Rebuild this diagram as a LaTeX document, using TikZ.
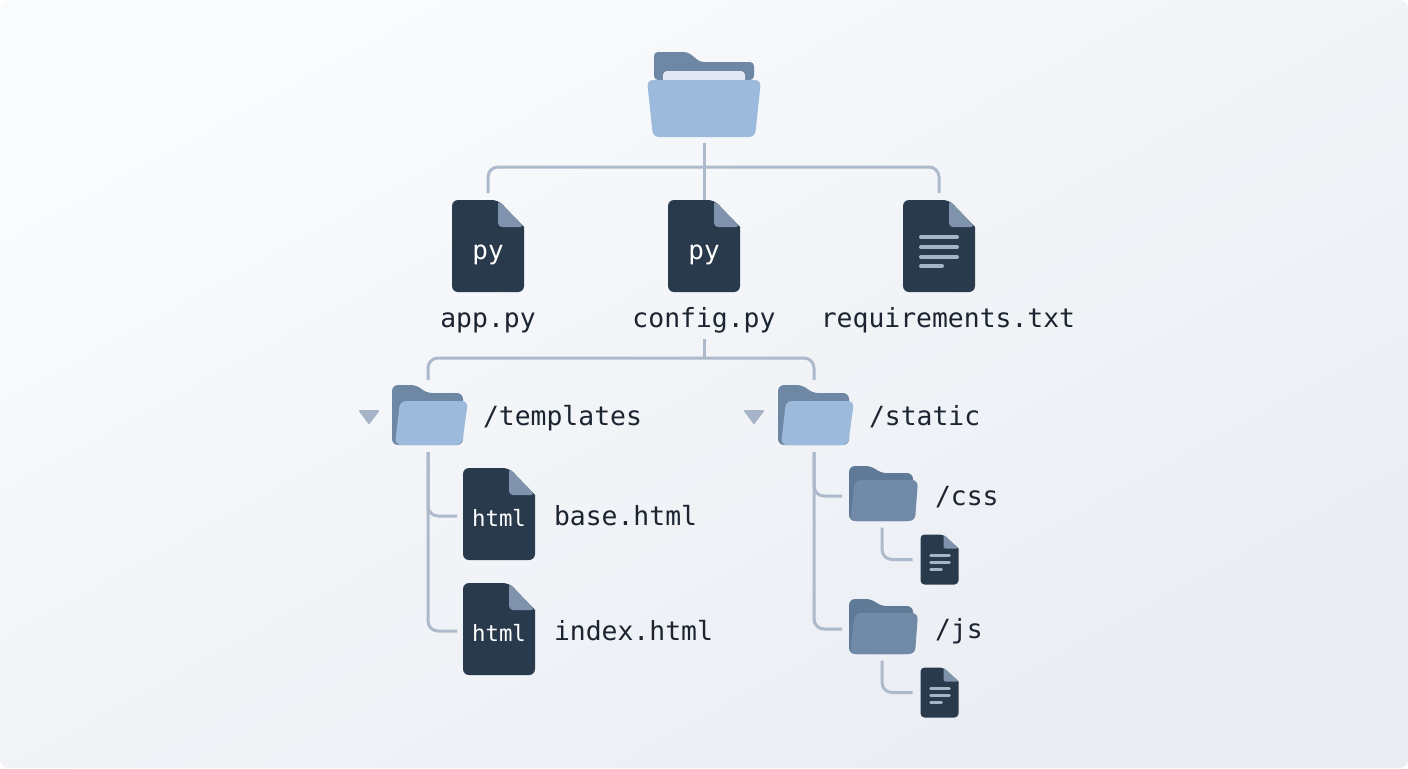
\documentclass[tikz,border=0pt]{standalone}
\usepackage{fontspec}
\setmonofont{DejaVu Sans Mono}
\usetikzlibrary{calc,positioning}
\definecolor{bgstart}{HTML}{FAFBFD}
\definecolor{bgend}{HTML}{E9EDF2}
\definecolor{docdark}{HTML}{293A4D}
\definecolor{docfold}{HTML}{7F93AD}
\definecolor{docline}{HTML}{A7B4C8}
\definecolor{folderback}{HTML}{6E87A5}
\definecolor{folderfront}{HTML}{9CBADC}
\definecolor{folderpaper}{HTML}{E2E9F5}
\definecolor{subback}{HTML}{5E7A96}
\definecolor{subfront}{HTML}{708AA8}
\definecolor{linkcol}{HTML}{ADBACC}
\definecolor{inkcol}{HTML}{1B2430}
\tikzset{
  link/.style={draw=linkcol, line width=1.5pt, rounded corners=5pt},
  iconbox/.style={inner sep=0pt, outer sep=0pt},
  icontext/.style={inner sep=0pt, outer sep=0pt, text=white, font=\ttfamily},
  itemname/.style={inner sep=0pt, outer sep=0pt, text=inkcol, font=\ttfamily\fontsize{13.2}{15}\selectfont,
    text height=11pt, text depth=2pt},
  textline/.style={draw=docline, line cap=round},
  toggle/.style={fill=docline, draw=docline, line join=round, line width=1pt},
  pics/bigdoc/.style 2 args={code={
    \fill[docdark, rounded corners=3pt] (-36,-46) -- (10,-46) [sharp corners] -- (36,-19) [rounded corners=3pt] -- (36,46) -- (-36,46) -- cycle;
    \fill[docfold, rounded corners=2pt] (10,-46) -- (36,-19) -- (10,-19) -- cycle;
    \node[iconbox, minimum width=36pt, minimum height=46pt] (-box) {};
    \node[icontext] (-text) at (0,#2) {#1};
  }},
  pics/smalldoc/.style={code={
    \fill[docdark, rounded corners=2pt] (-19,-25) -- (4,-25) [sharp corners] -- (19,-11) [rounded corners=2pt] -- (19,25) -- (-19,25) -- cycle;
    \fill[docfold, rounded corners=1pt] (4,-25) -- (19,-11) -- (4,-11) -- cycle;
    \draw[textline, line width=1.25pt] (-9,-4) -- (10,-4) (-9,3) -- (10,3) (-9,10) -- (2,10);
    \node[iconbox, minimum width=19pt, minimum height=25pt] (-box) {};
  }},
  pics/sidefolder/.style 2 args={code={
    \fill[#1, rounded corners=3pt] (-36,-30) -- (-11,-30) -- (-2,-22) -- (35,-22) -- (35,30) -- (-36,30) -- cycle;
    \fill[#2, rounded corners=3pt] (-28,-14) -- (40,-14) -- (34,30) -- (-33,30) -- cycle;
    \node[iconbox, minimum width=36pt, minimum height=30pt] (-box) {};
  }},
  pics/subfolder/.style={code={
    \fill[subback, rounded corners=3pt] (-33,-28) -- (-10,-28) -- (-2,-21) -- (31,-21) -- (31,27) -- (-33,27) -- cycle;
    \fill[subfront, rounded corners=3pt] (-27,-14) -- (36,-14) -- (33,27) -- (-32,27) -- cycle;
    \node[iconbox, minimum width=33pt, minimum height=27.5pt] (-box) {};
  }},
}
\begin{document}
\begin{tikzpicture}[x=0.5pt,y=-0.5pt]
  \useasboundingbox (0,0) rectangle (1408,768);
  \shade[rounded corners=4pt, top color=bgstart, bottom color=bgend, shading angle=28.6]
    (0,0) rectangle (1408,768);
  % root
  \fill[folderback, rounded corners=2pt] (654,80) -- (654,52) -- (688,52) -- (700,62) -- (754,62) -- (754,80) -- cycle;
  \fill[folderpaper, rounded corners=2pt] (663,90) -- (663,71) -- (745,71) -- (745,90) -- cycle;
  \fill[folderfront, rounded corners=3pt] (647,80) -- (761,80) -- (755,137) -- (653,137) -- cycle;
  \node[iconbox, minimum width=57pt, minimum height=42.5pt] (rootfolder) at (704,94.5) {};
  % first level
  \pic (appfile) at (488,246) {bigdoc={\fontsize{13}{15}\selectfont py}{9}};
  \pic (configfile) at (704,246) {bigdoc={\fontsize{13}{15}\selectfont py}{9}};
  \pic (reqfile) at (939,246) {bigdoc={}{0}};
  \draw[textline, line width=2pt] (921,237) -- (957,237) (921,247) -- (957,247) (921,257) -- (957,257) (921,266) -- (942,266);
  \node[itemname] (appname) at (488,318) {app.py};
  \node[itemname] (configname) at (704,318) {config.py};
  \node[itemname] (reqname) at (948,318) {requirements.txt};
  \coordinate (rootbus) at (704,167);
  \coordinate (subbus) at (704,358);
  \draw[link, shorten <=3pt] (rootfolder.south) -- (configfile-box.north);
  \draw[link, shorten >=3.5pt] (rootbus) -| (appfile-box.north);
  \draw[link, shorten >=3.5pt] (rootbus) -| (reqfile-box.north);
  % second level
  \pic (tplfolder) at (428,415) {sidefolder={folderback}{folderfront}};
  \pic (staticfolder) at (814,415) {sidefolder={folderback}{folderfront}};
  \node[itemname, anchor=west] (tplname) at (483,416) {/templates};
  \node[itemname, anchor=west] (staticname) at (869,416) {/static};
  \fill[toggle] (360,411) -- (378,411) -- (369,423) -- cycle;
  \fill[toggle] (745,411) -- (763,411) -- (754,423) -- cycle;
  \draw[link, shorten <=4pt] (configname.south) -- (subbus);
  \draw[link, shorten >=2.5pt] (subbus) -| (tplfolder-box.north);
  \draw[link, shorten >=2.5pt] (subbus) -| (staticfolder-box.north);
  % templates
  \pic (basefile) at (499,514) {bigdoc={\fontsize{11.2}{13}\selectfont html}{4}};
  \pic (indexfile) at (499,629) {bigdoc={\fontsize{11.2}{13}\selectfont html}{4}};
  \node[itemname, anchor=west] (basename) at (554,516) {base.html};
  \node[itemname, anchor=west] (indexname) at (554,631) {index.html};
  \draw[link, shorten <=3.5pt, shorten >=3pt] (tplfolder-box.south) |- ([yshift=-1pt]basefile-box.west);
  \draw[link, shorten <=3.5pt, shorten >=3pt] (tplfolder-box.south) |- ([yshift=-1pt]indexfile-box.west);
  % static
  \pic (cssfolder) at (882,494) {subfolder};
  \pic (jsfolder) at (882,627) {subfolder};
  \pic (cssfile) at (939.5,559.5) {smalldoc};
  \pic (jsfile) at (939.5,692.5) {smalldoc};
  \node[itemname, anchor=west] (cssname) at (935,496) {/css};
  \node[itemname, anchor=west] (jsname) at (935,629) {/js};
  \draw[link, shorten <=3.5pt, shorten >=3.5pt] (staticfolder-box.south) |- ([yshift=-1pt]cssfolder-box.west);
  \draw[link, shorten <=3.5pt, shorten >=3.5pt] (staticfolder-box.south) |- ([yshift=-1pt]jsfolder-box.west);
  \draw[link, shorten <=3pt, shorten >=4pt] (cssfolder-box.south) |- (cssfile-box.west);
  \draw[link, shorten <=3pt, shorten >=4pt] (jsfolder-box.south) |- (jsfile-box.west);
\end{tikzpicture}
\end{document}
